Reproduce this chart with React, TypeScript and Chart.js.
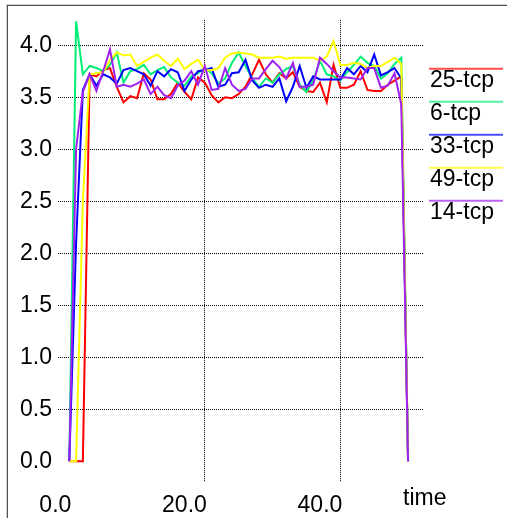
import React, { useEffect, useRef } from "react";
import { Chart, registerables } from "chart.js";

Chart.register(...registerables);

const times = [0,1,2,3,4,5,6,7,8,9,10,11,12,13,14,15,16,17,18,19,20,21,22,23,24,25,26,27,28,29,30,31,32,33,34,35,36,37,38,39,40,41,42,43,44,45,46,47,48,49,50];

const tcp25 = [0,0,0,3.72,3.70,3.76,3.78,3.60,3.45,3.51,3.49,3.73,3.67,3.48,3.48,3.53,3.64,3.55,3.48,3.69,3.64,3.52,3.45,3.50,3.49,3.53,3.60,3.72,3.86,3.72,3.64,3.73,3.68,3.74,3.60,3.56,3.55,3.64,3.45,3.81,3.59,3.59,3.62,3.75,3.57,3.56,3.56,3.62,3.66,3.70,0];
const tcp6 = [0,4.23,3.72,3.80,3.78,3.75,3.81,3.93,3.64,3.75,3.77,3.81,3.72,3.76,3.79,3.69,3.64,3.61,3.70,3.73,3.78,3.73,3.63,3.68,3.83,3.93,3.80,3.68,3.60,3.68,3.64,3.72,3.77,3.80,3.62,3.55,3.66,3.85,3.72,3.70,3.66,3.74,3.81,3.89,3.83,3.80,3.68,3.73,3.82,3.88,0];
const tcp33 = [0,2.1,3.57,3.72,3.61,3.72,3.69,3.63,3.76,3.78,3.75,3.72,3.61,3.75,3.70,3.77,3.74,3.56,3.67,3.75,3.76,3.78,3.60,3.62,3.73,3.74,3.86,3.66,3.59,3.62,3.60,3.68,3.46,3.60,3.80,3.59,3.70,3.67,3.67,3.67,3.67,3.78,3.72,3.80,3.74,3.91,3.71,3.74,3.78,3.68,0];
const tcp49 = [0,0,2.5,3.72,3.73,3.74,3.86,3.93,3.90,3.91,3.80,3.84,3.88,3.91,3.85,3.80,3.87,3.77,3.82,3.86,3.76,3.76,3.78,3.88,3.92,3.93,3.92,3.91,3.88,3.88,3.88,3.89,3.87,3.88,3.88,3.88,3.88,3.85,3.89,4.04,3.81,3.81,3.83,3.82,3.78,3.80,3.80,3.84,3.88,3.82,0];
const tcp14 = [0,3.0,3.55,3.72,3.56,3.75,3.96,3.60,3.62,3.60,3.63,3.67,3.53,3.60,3.52,3.49,3.61,3.66,3.75,3.62,3.80,3.57,3.58,3.78,3.62,3.56,3.58,3.68,3.68,3.77,3.85,3.79,3.68,3.83,3.60,3.60,3.62,3.88,3.82,3.75,3.69,3.69,3.68,3.67,3.78,3.78,3.59,3.61,3.73,3.43,0];

const seriesNames = ["25-tcp", "6-tcp", "33-tcp", "49-tcp", "14-tcp"];
const seriesValues = [tcp25, tcp6, tcp33, tcp49, tcp14];
const seriesColors = ["#ff0000", "#00ee76", "#0000ff", "#ffff00", "#a020f0"];

const xTicks = [0, 20, 40];
const yTicks = [0, 0.5, 1, 1.5, 2, 2.5, 3, 3.5, 4];
const xAxisTitle = "time";

const FONT_FAMILY = '"Liberation Sans", Arial, Helvetica, sans-serif';
const FONT_SIZE = 23;

const decorPlugin = {
  id: "decor",
  afterDraw(chart: any) {
    const ctx = chart.ctx;
    const area = chart.chartArea;
    ctx.save();
    // window frame (top and left)
    ctx.fillStyle = "#d0d0d0";
    ctx.fillRect(6, 4, chart.width - 6, 1);
    ctx.fillRect(6, 4, 1, chart.height - 4);
    ctx.fillStyle = "#505050";
    ctx.fillRect(7, 5, chart.width - 7, 1);
    ctx.fillRect(7, 5, 1, chart.height - 5);

    // legend
    ctx.font = `${FONT_SIZE}px ${FONT_FAMILY}`;
    ctx.textAlign = "left";
    ctx.textBaseline = "alphabetic";
    const lx0 = area.right + 5;
    const lx1 = chart.width - 4;
    seriesNames.forEach((name, i) => {
      const y = area.top + 49 + 33 * i;
      ctx.globalAlpha = 0.7;
      ctx.strokeStyle = seriesColors[i];
      ctx.lineWidth = 2;
      ctx.beginPath();
      ctx.moveTo(lx0, y);
      ctx.lineTo(lx1, y);
      ctx.stroke();
      ctx.globalAlpha = 1;
      ctx.fillStyle = "#000";
      ctx.fillText(name, lx0 + 1, y + 18);
    });

    // x axis title
    ctx.fillStyle = "#000";
    ctx.fillText(xAxisTitle, area.right - 21, area.bottom + 23);
    ctx.restore();
  },
};

export default function App() {
  const canvasRef = useRef<HTMLCanvasElement | null>(null);

  useEffect(() => {
    const canvas = canvasRef.current;
    if (!canvas) return;
    const datasets = seriesNames.map((name, i) => ({
      label: name,
      data: times.map((t, j) => ({ x: t, y: seriesValues[i][j] })),
      borderColor: seriesColors[i],
      backgroundColor: seriesColors[i],
      borderWidth: 2,
      pointRadius: 0,
      tension: 0,
      fill: false,
      order: seriesNames.length - i,
    }));

    const gridColor = (ctx: any) =>
      ctx.tick && ctx.tick.value === 0 ? "rgba(0,0,0,0)" : "#000";

    const chart = new Chart(canvas, {
      type: "line",
      data: { datasets },
      plugins: [decorPlugin],
      options: {
        animation: false,
        responsive: false,
        maintainAspectRatio: false,
        layout: { padding: { left: 0, top: 15, right: 83, bottom: 0 } },
        plugins: {
          legend: { display: false },
          tooltip: { enabled: false },
        },
        scales: {
          x: {
            type: "linear",
            min: -1.67,
            max: 52.35,
            afterBuildTicks: (scale: any) => {
              scale.ticks = xTicks.map((v) => ({ value: v }));
            },
            afterFit: (scale: any) => {
              scale.height = 36;
            },
            grid: {
              drawTicks: false,
              color: gridColor,
              lineWidth: 1,
              borderDash: [1, 1],
            },
            border: { display: false, dash: [1, 1] },
            ticks: {
              align: "end",
              labelOffset: 2,
              padding: 10,
              color: "#000",
              font: { family: FONT_FAMILY, size: FONT_SIZE },
              callback: (v: any) => Number(v).toFixed(1),
              maxRotation: 0,
              autoSkip: false,
            },
          },
          y: {
            type: "linear",
            min: -0.2,
            max: 4.244,
            afterBuildTicks: (scale: any) => {
              scale.ticks = yTicks.map((v) => ({ value: v }));
            },
            afterFit: (scale: any) => {
              scale.width = 58;
            },
            grid: {
              drawTicks: false,
              color: gridColor,
              lineWidth: 1,
              borderDash: [1, 1],
            },
            border: { display: false, dash: [1, 1] },
            ticks: {
              padding: 6,
              color: "#000",
              font: { family: FONT_FAMILY, size: FONT_SIZE },
              callback: (v: any) => Number(v).toFixed(1),
              autoSkip: false,
            },
          },
        },
      } as any,
    });
    return () => chart.destroy();
  }, []);

  return (
    <div style={{ position: "fixed", left: 0, top: 0, width: 507, height: 518, background: "#fff" }}>
      <canvas ref={canvasRef} width={507} height={518} style={{ display: "block", width: 507, height: 518 }} />
    </div>
  );
}
